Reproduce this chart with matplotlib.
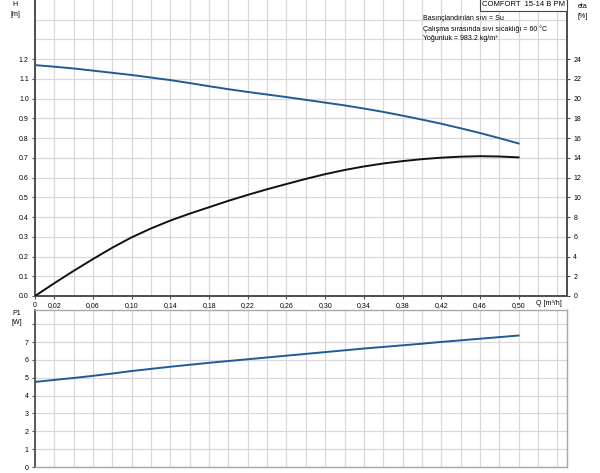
import matplotlib.pyplot as plt
import numpy as np

plt.rcParams['font.family'] = ['Liberation Sans', 'DejaVu Sans']

# flow Q [m3/h]
q = [0.00, 0.02, 0.04, 0.06, 0.08, 0.10, 0.12, 0.14, 0.16, 0.18, 0.20, 0.22, 0.24,
     0.26, 0.28, 0.30, 0.32, 0.34, 0.36, 0.38, 0.40, 0.42, 0.44, 0.46, 0.48, 0.50]
# head H [m]
head = [1.170, 1.162, 1.153, 1.142, 1.131, 1.120, 1.107, 1.094, 1.079, 1.063, 1.048,
        1.034, 1.021, 1.008, 0.994, 0.980, 0.966, 0.950, 0.933, 0.914, 0.894, 0.873,
        0.850, 0.826, 0.800, 0.773]
# efficiency eta [%]
eta = [0.0, 1.3, 2.55, 3.75, 4.9, 5.95, 6.85, 7.65, 8.35, 9.0, 9.65, 10.25, 10.82,
       11.35, 11.87, 12.35, 12.77, 13.13, 13.43, 13.67, 13.87, 14.02, 14.12, 14.17,
       14.14, 14.05]
# power P1 [W]
p1 = [4.77, 4.88, 4.99, 5.11, 5.24, 5.38, 5.50, 5.62, 5.73, 5.84, 5.94, 6.04, 6.14,
      6.24, 6.34, 6.44, 6.54, 6.64, 6.73, 6.82, 6.91, 7.01, 7.10, 7.19, 7.28, 7.37]

x_labels = ['0', '0,02', '0,06', '0,10', '0,14', '0,18', '0,22', '0,26', '0,30',
            '0,34', '0,38', '0,42', '0,46', '0,50']
x_label_pos = [0.0] + [0.02 + 0.04 * i for i in range(13)]

blue = '#1f5b97'
grid_c = '#d8d8d8'
spine_c = '#505050'
fs = 5

fig = plt.figure(figsize=(6, 4.73), dpi=100)
ax = fig.add_axes([35 / 600, 1 - 296 / 473, 532 / 600, 296 / 473])
ax2 = ax.twinx()
axp = fig.add_axes([35 / 600, 1 - 467 / 473, 532 / 600, 157 / 473])

xmax = 0.55
vgrid = np.arange(0, 0.5401, 0.02)

# top: H and eta
ax.set_xlim(0, xmax)
ax.set_ylim(0, 1.5)
ax2.set_ylim(0, 30)
ax.set_xticks(vgrid, minor=True)
ax.set_xticks(x_label_pos)
ax.set_xticklabels(x_labels)
ax.set_yticks(np.arange(0, 1.21, 0.1))
ax.set_yticklabels(['%.1f' % v for v in np.arange(0, 1.21, 0.1)])
ax.set_yticks([1.3, 1.4], minor=True)
ax2.set_yticks(range(0, 25, 2))
ax.grid(True, which='both', color=grid_c, lw=0.9)
ax.set_axisbelow(True)

ax.plot(q, head, color=blue, lw=1.4, zorder=3)
ax2.plot(q, eta, color='#111111', lw=1.4, zorder=3)

for a in (ax, ax2):
    a.spines['top'].set_visible(False)
    for s in ('left', 'right', 'bottom'):
        a.spines[s].set_color(spine_c)
        a.spines[s].set_linewidth(1.3)
    a.tick_params(labelsize=fs, length=2.5, width=0.8, color=spine_c, pad=2)
ax.tick_params(which='minor', length=0)

fig.text(15 / 600, 1 - 5 / 473, 'H', fontsize=fs, ha='center', va='center')
fig.text(15 / 600, 1 - 15 / 473, '[m]', fontsize=fs, ha='center', va='center')
fig.text(583 / 600, 1 - 6 / 473, 'eta', fontsize=fs, ha='center', va='center')
fig.text(583 / 600, 1 - 16 / 473, '[%]', fontsize=fs, ha='center', va='center')
fig.text(536 / 600, 1 - 303 / 473, 'Q [m³/h]', fontsize=fs, ha='left', va='center')

fig.text(565 / 600, 1 - 5 / 473, 'COMFORT  15-14 B PM', fontsize=fs + 0.5,
         ha='right', va='center',
         bbox=dict(boxstyle='square,pad=0.3', fc='white', ec='#444444', lw=0.8))
info = ['Basınçlandırılan sıvı = Su',
        'Çalışma sırasında sıvı sıcaklığı = 60 °C',
        'Yoğunluk = 983.2 kg/m³']
for i, line in enumerate(info):
    fig.text(423 / 600, 1 - (19 + 10 * i) / 473, line, fontsize=fs,
             ha='left', va='center')

# bottom: P1
axp.set_xlim(0, xmax)
axp.set_ylim(0, 8.8)
axp.set_xticks(vgrid)
axp.set_xticklabels([])
axp.set_yticks(range(0, 9))
axp.set_yticklabels([str(v) for v in range(0, 8)] + [''])
axp.grid(True, color=grid_c, lw=0.9)
axp.set_axisbelow(True)
axp.plot(q, p1, color=blue, lw=1.4, zorder=3)
axp.spines['left'].set_color(spine_c)
axp.spines['left'].set_linewidth(1.3)
for s in ('top', 'right', 'bottom'):
    axp.spines[s].set_color('#a8a8a8')
    axp.spines[s].set_linewidth(1.0)
axp.tick_params(labelsize=fs, length=2.5, width=0.8, color=spine_c, pad=2)
axp.tick_params(axis='x', length=0)

fig.text(17 / 600, 1 - 313 / 473, 'P1', fontsize=fs, ha='center', va='center')
fig.text(17 / 600, 1 - 323 / 473, '[W]', fontsize=fs, ha='center', va='center')

fig.savefig('out.png', dpi=100)
